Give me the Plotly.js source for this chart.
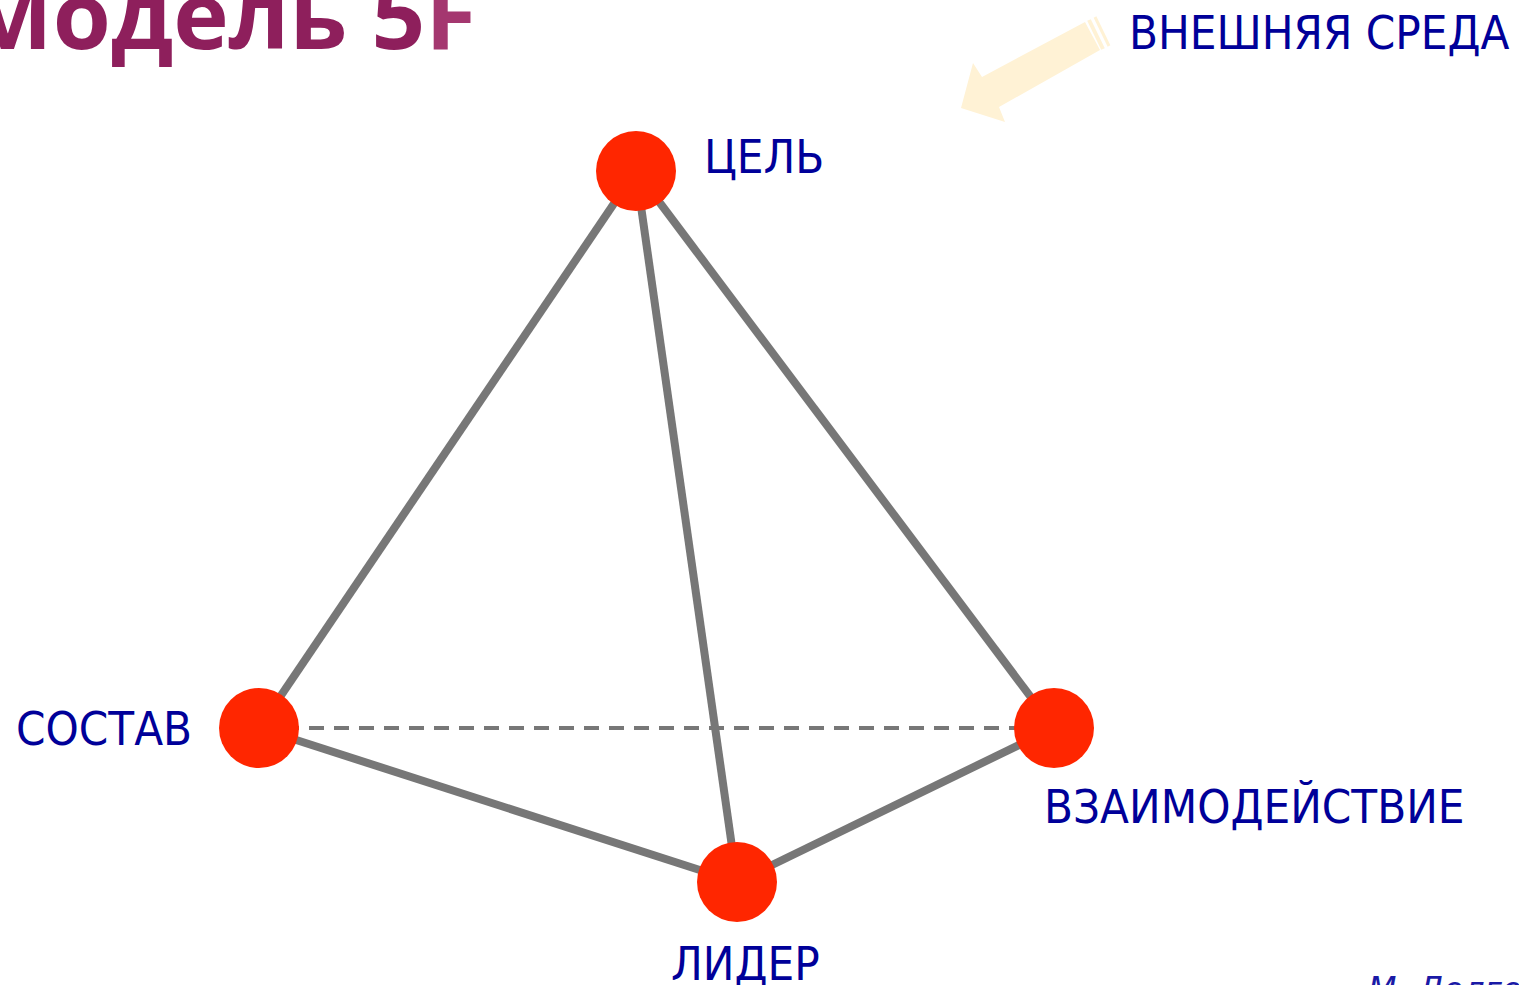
<!DOCTYPE html>
<html>
<head>
<meta charset="utf-8">
<script src="https://cdn.plot.ly/plotly-3.0.1.min.js"></script>
<style>html,body{margin:0;padding:0;background:#fff;overflow:hidden}#chart{width:1519px;height:985px}</style>
</head>
<body>
<div id="chart"></div>
<script>
// ---- data ----
const nodeNames = ["ЦЕЛЬ", "СОСТАВ", "ЛИДЕР", "ВЗАИМОДЕЙСТВИЕ"];
const nodeX = [636, 259, 737, 1054];
const nodeY = [171, 728, 882, 728];
const edgeFrom = [0, 0, 0, 1, 2, 1];
const edgeTo   = [1, 2, 3, 2, 3, 3];
const edgeDashed = [false, false, false, false, false, true];
const titleMain = "Модель 5";
const titleAccent = "F";
const envLabel = "ВНЕШНЯЯ СРЕДА";
const authorLabel = "М. Долгова";

// ---- styles ----
const W = 1519, H = 985;
const lineGray = "#777777";
const nodeRed = "#ff2600";
const textBlue = "#000099";
const labelFont = "DejaVu Sans Condensed, Tahoma, sans-serif";
const labelSize = 47;

const traces = [];
edgeFrom.forEach((f, i) => {
  const t = edgeTo[i];
  traces.push({
    type: "scatter", mode: "lines",
    x: [nodeX[f], nodeX[t]], y: [nodeY[f], nodeY[t]],
    line: edgeDashed[i] ? {color: lineGray, width: 4, dash: "15px,10px"} : {color: lineGray, width: 8},
    hoverinfo: "skip", showlegend: false
  });
});
traces.push({
  type: "scatter", mode: "markers",
  x: nodeX, y: nodeY, text: nodeNames,
  marker: {color: nodeRed, size: 80, line: {width: 0}},
  hoverinfo: "text", showlegend: false
});

// label placement (layout only): left edge & baseline, in pixels
const labelPos = {
  "ЦЕЛЬ": [703, 173],
  "СОСТАВ": [15, 745],
  "ЛИДЕР": [670, 980],
  "ВЗАИМОДЕЙСТВИЕ": [1043, 823]
};
function pxAnn(text, left, baseline, size, family, anchor, color) {
  return {
    x: left / W, y: 1 - (baseline - 0.36 * size) / H, xref: "paper", yref: "paper",
    xanchor: anchor || "left", yanchor: "middle", showarrow: false,
    text: text, font: {family: family || labelFont, size: size, color: color || textBlue},
    borderpad: 0
  };
}
const annotations = nodeNames.map(n => pxAnn(n, labelPos[n][0], labelPos[n][1], labelSize));
annotations.push(pxAnn(envLabel, 1128, 49, labelSize));
annotations.push(pxAnn("<i>" + authorLabel + "</i>", 1367, 1001, 33, "DejaVu Sans, sans-serif", "left", "#1a1aa6"));
annotations.push(pxAnn(
  '<b><span style="color:#8e1f5c">' + titleMain + '</span><span style="color:#a4376f">' + titleAccent + '</span></b>',
  478, 47, 94, "Open Sans, sans-serif", "right", "#8e1f5c"));

const arrowFill = "#fff2d5";
const shapes = [
  {type: "path", xref: "x", yref: "y", path: "M1085,22 L982,77 L973,63 L961,108 L1005,122 L999,107 L1100,50 Z",
   fillcolor: arrowFill, line: {width: 0}, layer: "below"},
  {type: "line", xref: "x", yref: "y", x0: 1089, y0: 20, x1: 1103, y1: 49, line: {color: arrowFill, width: 4}, layer: "below"},
  {type: "line", xref: "x", yref: "y", x0: 1095, y0: 17, x1: 1109, y1: 46, line: {color: arrowFill, width: 3}, layer: "below"}
];

const layout = {
  width: W, height: H,
  margin: {l: 0, r: 0, t: 0, b: 0, pad: 0},
  paper_bgcolor: "#ffffff", plot_bgcolor: "#ffffff",
  xaxis: {range: [0, W], visible: false, fixedrange: true},
  yaxis: {range: [H, 0], visible: false, fixedrange: true},
  showlegend: false, hovermode: "closest",
  annotations: annotations, shapes: shapes
};
Plotly.newPlot("chart", traces, layout, {displayModeBar: false});
</script>
</body>
</html>
